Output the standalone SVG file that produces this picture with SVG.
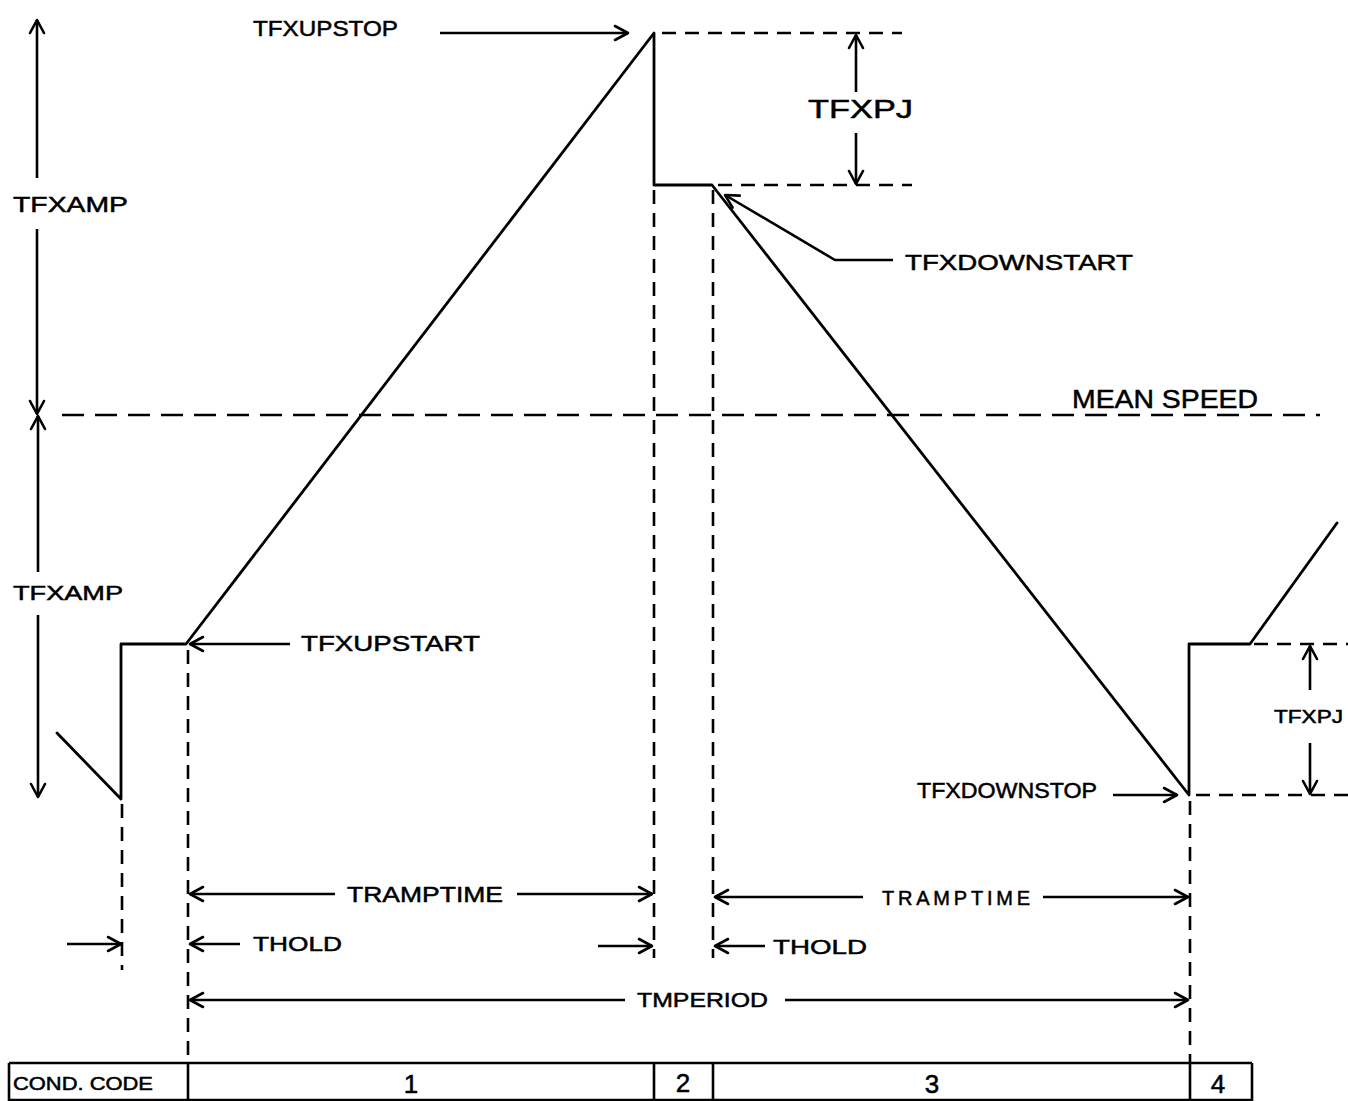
<svg xmlns="http://www.w3.org/2000/svg" width="1348" height="1101" viewBox="0 0 1348 1101">
<style>
  .ln{fill:none;stroke:#000;stroke-width:2.8;stroke-linecap:round;stroke-linejoin:round}
  .ds{fill:none;stroke:#000;stroke-width:2.6;stroke-dasharray:14 9}
  .dh{fill:none;stroke:#000;stroke-width:2.6;stroke-dasharray:22 11}
  .ar{fill:none;stroke:#000;stroke-width:2.6;marker-end:url(#ah)}
  .tb{fill:none;stroke:#000;stroke-width:2.6}
  text{font-family:"Liberation Sans","DejaVu Sans",sans-serif;fill:#000;stroke:#000;stroke-width:0.5;font-size:22px}
  .sm{font-size:18px}
  .num{font-size:26px;text-anchor:middle}
</style>
<defs>
  <marker id="ah" viewBox="-2 -2 18 18" refX="13" refY="7" markerWidth="18" markerHeight="18" markerUnits="userSpaceOnUse" orient="auto">
    <path d="M0,0 L13,7 L0,14" fill="none" stroke="#000" stroke-width="2.6" stroke-linecap="round" stroke-linejoin="round"/>
  </marker>
</defs>
<rect width="1348" height="1101" fill="#fff"/>

<g id="waveform">
  <path class="ln" d="M57,733 L121,799 L121,644 L186,644 L654,33 L654,185 L712,185 L1189,795 L1189,644 L1250,644 L1337,523"/>
</g>

<g id="connectors">
  <line class="ar" x1="37" y1="178" x2="37" y2="20"/>
  <line class="ar" x1="37" y1="229" x2="37" y2="414"/>
  <line class="ar" x1="38" y1="572" x2="38" y2="416"/>
  <line class="ar" x1="38" y1="615" x2="38" y2="797"/>
  <line class="dh" x1="62" y1="415" x2="1320" y2="415"/>
  <line class="ds" x1="662" y1="33" x2="902" y2="33"/>
  <line class="ds" x1="718" y1="185" x2="912" y2="185"/>
  <line class="ar" x1="856" y1="92" x2="856" y2="35"/>
  <line class="ar" x1="856" y1="133" x2="856" y2="184"/>
  <line class="ar" x1="440" y1="33" x2="628" y2="33"/>
  <polyline class="ar" points="893,260 835,260 725,195"/>
  <line class="ar" x1="290" y1="644" x2="190" y2="644"/>
  <line class="ar" x1="1113" y1="795" x2="1177" y2="795"/>
  <line class="ds" x1="1254" y1="644" x2="1348" y2="644"/>
  <line class="ds" x1="1196" y1="795" x2="1348" y2="795"/>
  <line class="ar" x1="1310" y1="690" x2="1310" y2="646"/>
  <line class="ar" x1="1310" y1="743" x2="1310" y2="794"/>
  <line class="ds" x1="122" y1="804" x2="122" y2="970"/>
  <line class="ds" x1="188" y1="650" x2="188" y2="1062"/>
  <line class="ds" x1="654" y1="190" x2="654" y2="958"/>
  <line class="ds" x1="713" y1="190" x2="713" y2="958"/>
  <line class="ds" x1="1190" y1="801" x2="1190" y2="1063"/>
  <line class="ar" x1="335" y1="894" x2="190" y2="894"/>
  <line class="ar" x1="517" y1="894" x2="652" y2="894"/>
  <line class="ar" x1="863" y1="897" x2="715" y2="897"/>
  <line class="ar" x1="1043" y1="897" x2="1188" y2="897"/>
  <line class="ar" x1="67" y1="944" x2="121" y2="944"/>
  <line class="ar" x1="240" y1="944" x2="190" y2="944"/>
  <line class="ar" x1="598" y1="946" x2="652" y2="946"/>
  <line class="ar" x1="765" y1="946" x2="715" y2="946"/>
  <line class="ar" x1="625" y1="1000" x2="190" y2="1000"/>
  <line class="ar" x1="785" y1="1000" x2="1188" y2="1000"/>
</g>

<g id="labels">
  <g id="n-tfxupstop"><text x="253" y="36" textLength="145" lengthAdjust="spacingAndGlyphs">TFXUPSTOP</text></g>
  <g id="n-tfxamp1"><text x="13" y="212" textLength="115" lengthAdjust="spacingAndGlyphs">TFXAMP</text></g>
  <g id="n-tfxamp2"><text x="13" y="600" style="font-size:21px" textLength="110" lengthAdjust="spacingAndGlyphs">TFXAMP</text></g>
  <g id="n-tfxpj1"><text x="808" y="118" style="font-size:26px" textLength="105" lengthAdjust="spacingAndGlyphs">TFXPJ</text></g>
  <g id="n-tfxdownstart"><text x="905" y="270" textLength="228" lengthAdjust="spacingAndGlyphs">TFXDOWNSTART</text></g>
  <g id="n-meanspeed"><text x="1072" y="408" style="font-size:25px" textLength="186" lengthAdjust="spacingAndGlyphs">MEAN SPEED</text></g>
  <g id="n-tfxupstart"><text x="301" y="651" textLength="179" lengthAdjust="spacingAndGlyphs">TFXUPSTART</text></g>
  <g id="n-tfxdownstop"><text x="917" y="798" textLength="180" lengthAdjust="spacingAndGlyphs">TFXDOWNSTOP</text></g>
  <g id="n-tfxpj2"><text x="1274" y="723" class="sm" textLength="69" lengthAdjust="spacingAndGlyphs">TFXPJ</text></g>
  <g id="n-tramptime1"><text x="347" y="902" textLength="156" lengthAdjust="spacingAndGlyphs">TRAMPTIME</text></g>
  <g id="n-tramptime2"><text x="882" y="905" style="font-size:20px" textLength="148" lengthAdjust="spacing">TRAMPTIME</text></g>
  <g id="n-thold1"><text x="253" y="951" style="font-size:20px" textLength="89" lengthAdjust="spacingAndGlyphs">THOLD</text></g>
  <g id="n-thold2"><text x="773" y="954" style="font-size:21px" textLength="94" lengthAdjust="spacingAndGlyphs">THOLD</text></g>
  <g id="n-tmperiod"><text x="637" y="1007" style="font-size:21px" textLength="131" lengthAdjust="spacingAndGlyphs">TMPERIOD</text></g>
</g>

<g id="table">
  <line class="tb" x1="9" y1="1063" x2="1252" y2="1063"/>
  <line class="tb" x1="9" y1="1100" x2="1252" y2="1100"/>
  <line class="tb" x1="9" y1="1063" x2="9" y2="1101"/>
  <line class="tb" x1="188" y1="1063" x2="188" y2="1101"/>
  <line class="tb" x1="654" y1="1063" x2="654" y2="1101"/>
  <line class="tb" x1="713" y1="1063" x2="713" y2="1101"/>
  <line class="tb" x1="1190" y1="1063" x2="1190" y2="1101"/>
  <line class="tb" x1="1252" y1="1063" x2="1252" y2="1101"/>
  <g id="n-condcode"><text x="13" y="1090" class="sm" textLength="140" lengthAdjust="spacingAndGlyphs">COND. CODE</text></g>
  <g id="n-c1"><text x="411" y="1093" class="num">1</text></g>
  <g id="n-c2"><text x="683" y="1092" class="num">2</text></g>
  <g id="n-c3"><text x="932" y="1093" class="num">3</text></g>
  <g id="n-c4"><text x="1218" y="1093" class="num">4</text></g>
</g>
</svg>
